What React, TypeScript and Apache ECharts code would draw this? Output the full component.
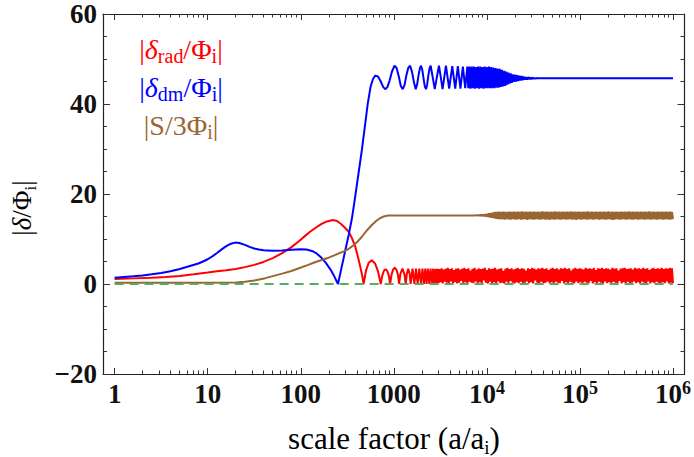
import { useEffect, useRef } from "react";
import * as echarts from "echarts";

// x values are log10(a/a_i)
const xMin = -0.125;
const xMax = 6.124;
const xTickLogs = [0, 1, 2, 3, 4, 5, 6];
const xTickLabels = ["{b|1}", "{b|10}", "{b|100}", "{b|1000}", "{b|10}{s|4}", "{b|10}{s|5}", "{b|10}{s|6}"];
const yMin = -20;
const yMax = 60;
const yInterval = 20;

// |delta_rad / Phi_i|  (resolved part)
const redPoints: number[][] = [
  [0, 1.1], [0.2, 1.25], [0.4, 1.4], [0.55, 1.55], [0.7, 1.8], [0.85, 2.15], [1.0, 2.55], [1.1, 2.85],
  [1.2, 3.05], [1.3, 3.35], [1.4, 3.75], [1.5, 4.25], [1.6, 4.9], [1.7, 5.75], [1.8, 6.85], [1.9, 8.2],
  [1.98, 9.5], [2.05, 10.75], [2.1, 11.6], [2.16, 12.5], [2.22, 13.3], [2.28, 13.9], [2.347, 14.2],
  [2.39, 14.0], [2.43, 13.4], [2.47, 12.6], [2.515, 11.6], [2.55, 10.2], [2.586, 8.3], [2.615, 6.0],
  [2.64, 3.8], [2.66, 1.9], [2.675, 0],
  [2.70, 2.9], [2.73, 4.7], [2.764, 5.3], [2.80, 4.5], [2.83, 2.8], [2.86, 0],
  [2.875, 1.8], [2.895, 3.0], [2.912, 3.3], [2.93, 2.9], [2.947, 1.8], [2.96, 0],
  [2.975, 2.0], [2.992, 3.2], [3.01, 3.6], [3.028, 3.2], [3.045, 2.0], [3.057, 0],
  [3.07, 2.2], [3.092, 3.4], [3.114, 2.2], [3.128, 0],
  [3.14, 2.3], [3.155, 3.4], [3.17, 2.3], [3.181, 0],
  [3.201, 3.4], [3.221, 0], [3.238, 3.4], [3.256, 0], [3.274, 3.4], [3.292, 0], [3.308, 3.4], [3.324, 0],
  [3.338, 3.4], [3.352, 0], [3.366, 3.4], [3.381, 0], [3.395, 3.4], [3.41, 0], [3.422, 3.4], [3.435, 0],
  [3.447, 3.4], [3.459, 0],
];
// dense oscillation band, samples evenly spread from redBandStart to redBandEnd
const redBandStart = 3.47;
const redBandEnd = 6.0;
const redBand = [
  3.4, 0.2, 3.3, 0.4, 3.5, 0.1, 3.2, 0.5, 3.4, 0.3, 3.6, 0.2, 3.3, 0.6, 3.5, 0.2, 3.1, 0.4, 3.4, 0.1,
  3.5, 0.3, 3.2, 0.7, 3.4, 0.2, 3.6, 0.4, 3.3, 0.1, 3.5, 0.5, 3.0, 0.3, 3.4, 0.2, 3.6, 0.6, 3.2, 0.1,
  3.5, 0.4, 3.3, 0.2, 3.4, 0.8, 3.6, 0.3, 3.1, 0.1, 3.5, 0.5, 3.3, 0.2, 3.4, 0.4, 3.6, 0.1, 3.2, 0.6,
  3.4, 0.2, 3.5, 0.3, 2.9, 0.1, 3.4, 0.5, 3.6, 0.2, 3.3, 0.7, 3.5, 0.3, 3.2, 0.1, 3.4, 0.4, 3.6, 0.2,
  3.3, 0.5, 3.5, 0.1, 3.4, 0.3, 3.0, 0.6, 3.5, 0.2, 3.3, 0.4, 3.6, 0.1, 3.4, 0.8, 3.2, 0.3, 3.5, 0.2,
  3.4, 0.5, 3.6, 0.1, 3.3, 0.3, 3.5, 0.6, 3.1, 0.2, 3.4, 0.4, 3.6, 0.1, 3.3, 0.5, 3.5, 0.3, 3.2, 0.2,
  3.5, 0.7, 3.4, 0.1, 3.6, 0.4, 3.3, 0.2, 3.5, 0.5, 3.0, 0.3, 3.4, 0.1, 3.6, 0.6, 3.3, 0.2, 3.5, 0.4,
  3.4, 0.1, 3.2, 0.5, 3.6, 0.3, 3.4, 0.2, 3.5, 0.7, 3.3, 0.1, 3.6, 0.4, 3.1, 0.2, 3.5, 0.5, 3.4, 0.3,
  3.6, 0.1, 3.3, 0.6, 3.5, 0.2, 3.4, 0.4, 3.2, 0.1, 3.6, 0.5, 3.4, 0.3, 3.5, 0.2, 3.0, 0.7, 3.4, 0.1,
  3.5, 0.4, 3.6, 0.2, 3.3, 0.5, 3.4, 0.1, 3.5, 0.3, 3.2, 0.6, 3.6, 0.2, 3.4, 0.4, 3.5, 0.1, 3.3, 0.5,
  3.6, 0.3, 3.4, 0.2, 3.5, 0.6, 3.1, 0.1, 3.4, 0.4, 3.6, 0.2, 3.3, 0.5, 3.5, 0.3, 3.4, 0.1, 3.6, 0.4,
  3.3, 0.2, 3.5, 0.6, 3.4, 0.1, 3.6, 0.3, 3.5, 0.2,
];

// |delta_dm / Phi_i|
const bluePoints: number[][] = [
  [0, 1.4], [0.1, 1.55], [0.2, 1.7], [0.3, 1.9], [0.4, 2.15], [0.5, 2.45], [0.6, 2.85], [0.7, 3.35],
  [0.8, 3.95], [0.9, 4.55], [0.95, 5.0], [1.0, 5.5], [1.05, 6.15], [1.1, 6.9], [1.15, 7.7], [1.2, 8.4],
  [1.25, 8.95], [1.295, 9.2], [1.34, 9.1], [1.4, 8.7], [1.45, 8.25], [1.5, 7.9], [1.55, 7.65], [1.6, 7.5],
  [1.7, 7.4], [1.8, 7.45], [1.9, 7.6], [2.0, 7.7], [2.06, 7.65], [2.12, 7.35], [2.17, 6.8], [2.22, 5.9],
  [2.27, 4.7], [2.32, 3.2], [2.36, 1.7], [2.40, 0], [2.44, 3.8], [2.48, 7.6], [2.515, 10.9], [2.55, 14.6],
  [2.58, 18.7], [2.62, 24.5], [2.657, 29.8], [2.69, 35.2], [2.72, 40.1], [2.75, 43.8], [2.775, 45.5],
  [2.80, 46.3], [2.83, 46.1], [2.86, 45.0], [2.885, 43.8], [2.907, 43.3], [2.93, 43.7], [2.955, 45.2],
  [2.98, 47.2], [3.007, 48.5], [3.03, 48.0], [3.055, 46.0], [3.075, 44.0], [3.096, 43.3], [3.115, 44.2],
  [3.135, 46.4], [3.155, 48.0], [3.175, 48.5], [3.195, 47.2], [3.215, 45.0], [3.235, 43.3], [3.25, 44.3],
  [3.265, 46.3], [3.28, 47.9], [3.292, 48.5], [3.306, 47.6], [3.32, 45.6], [3.333, 43.9], [3.346, 43.3],
  [3.358, 44.3], [3.371, 46.3], [3.384, 47.9], [3.396, 48.5], [3.418, 45.9], [3.44, 43.3], [3.462, 45.9],
  [3.485, 48.5], [3.505, 45.9], [3.524, 43.3], [3.542, 45.9], [3.56, 48.5], [3.595, 43.4], [3.628, 48.4],
  [3.66, 43.4], [3.688, 48.4], [3.716, 43.4], [3.742, 48.3], [3.767, 43.5], [3.79, 48.3],
];
const blueBandStart = 3.80;
const blueBandEnd = 4.56;
const blueBand = [
  43.5, 48.3, 43.4, 48.3, 43.5, 48.3, 43.4, 48.2, 43.5, 48.3, 43.4, 48.3, 43.5, 48.2, 43.4, 48.3, 43.5, 48.2, 43.5, 48.3, 43.5,
  48.2, 43.5, 48.1, 43.5, 48.0, 43.6, 47.9, 43.6, 47.8,
  43.8, 47.6, 43.9, 47.4, 44.0, 47.2,
  44.3, 47.0, 44.5, 46.8, 44.7, 46.6,
  44.9, 46.5, 45.0, 46.4, 45.1, 46.3,
  45.2, 46.2, 45.3, 46.1, 45.4, 46.0,
  45.4, 46.0, 45.5, 45.9, 45.5, 45.9, 45.6, 45.8, 45.6, 45.8, 45.7, 45.7,
];
const blueTail: number[][] = [[4.57, 45.7], [6.0, 45.7]];

// |S / 3 Phi_i|
const brownPoints: number[][] = [
  [0, 0.3], [0.5, 0.3], [1.0, 0.3], [1.3, 0.35], [1.4, 0.5], [1.5, 0.8], [1.62, 1.3], [1.7, 1.75],
  [1.8, 2.3], [1.9, 2.9], [1.98, 3.5], [2.08, 4.25], [2.16, 4.9], [2.24, 5.45], [2.3, 5.85], [2.36, 6.35],
  [2.42, 6.9], [2.47, 7.3], [2.515, 7.8], [2.56, 8.5], [2.6, 9.2], [2.657, 10.5], [2.71, 11.9],
  [2.764, 13.1], [2.81, 14.0], [2.85, 14.6], [2.89, 15.0], [2.94, 15.2], [3.0, 15.25], [3.5, 15.25],
  [3.87, 15.25],
];
const brownBandStart = 3.88;
const brownBandEnd = 6.0;
const brownBand = [
  15.25, 15.3, 15.2, 15.35, 15.15, 15.4, 15.1, 15.45, 15.05, 15.5, 15.0, 15.6, 14.9, 15.7, 14.8, 15.8, 14.7, 15.9, 14.6, 16.0,
  14.5, 16.05, 14.4, 16.1, 14.35, 16.0, 14.4, 16.1, 14.3, 16.05, 14.4, 16.0, 14.35, 16.1, 14.3, 16.05, 14.4, 16.1, 14.35, 16.0,
  14.3, 16.1, 14.4, 16.05, 14.3, 16.15, 14.35, 16.0, 14.4, 16.1, 14.25, 16.05, 14.35, 16.1, 14.4, 16.0, 14.3, 16.1, 14.35, 16.05,
  14.4, 16.1, 14.3, 16.0, 14.35, 16.15, 14.4, 16.05, 14.3, 16.1, 14.35, 16.0, 14.25, 16.1, 14.4, 16.05, 14.3, 16.15, 14.35, 16.0,
  14.4, 16.1, 14.3, 16.05, 14.35, 16.1, 14.4, 16.0, 14.3, 16.1, 14.35, 16.05, 14.4, 16.15, 14.3, 16.0, 14.35, 16.1, 14.25, 16.05,
  14.4, 16.1, 14.3, 16.0, 14.35, 16.1, 14.4, 16.05, 14.3, 16.15, 14.35, 16.0, 14.4, 16.1, 14.3, 16.05, 14.35, 16.1, 14.4, 16.0,
  14.3, 16.1, 14.35, 16.05, 14.4, 16.1, 14.3, 16.0, 14.35, 16.15, 14.4, 16.05, 14.3, 16.1, 14.25, 16.0, 14.35, 16.1, 14.4, 16.05,
  14.3, 16.1, 14.35, 16.0, 14.4, 16.1, 14.3, 16.05, 14.35, 16.15, 14.4, 16.0, 14.3, 16.1, 14.35, 16.05, 14.4, 16.1, 14.3, 16.0,
  14.35, 16.1, 14.4, 16.05, 14.3, 16.1, 14.35, 16.0, 14.4, 16.15, 14.3, 16.05, 14.35, 16.1, 14.4, 16.0, 14.3, 16.1, 14.35, 16.05,
  14.4, 16.1, 14.3, 16.0, 14.35, 16.1, 14.4, 16.05, 14.3, 16.1, 14.35, 16.0, 14.4,
];

// zero reference line
const zeroLine: number[][] = [[0, 0], [6, 0]];

const legendLines = [
  { text: "{n||}{g|δ}{sub|rad}{n|/Φ}{sub|i}{n||}", color: "#ff0000" },
  { text: "{n||}{g|δ}{sub|dm}{n|/Φ}{sub|i}{n||}", color: "#0000ff" },
  { text: "{n||S/3Φ}{sub|i}{n||}", color: "#996633" },
];

const FONT = '"Liberation Serif", "DejaVu Serif", serif';

function band(start: number, end: number, vals: number[]): number[][] {
  const step = (end - start) / (vals.length - 1);
  return vals.map((v, i) => [start + i * step, v]);
}

export default function App() {
  const ref = useRef<HTMLDivElement>(null);
  useEffect(() => {
    if (!ref.current) return;
    const chart = echarts.init(ref.current, undefined, { renderer: "svg" });
    const minorLogs: number[] = [];
    for (let k = 0; k < 6; k++) for (let m = 2; m <= 9; m++) minorLogs.push(k + Math.log10(m));

    const richTick = {
      b: { fontFamily: FONT, fontSize: 27, fontWeight: "bold", color: "#111", lineHeight: 30 },
      s: { fontFamily: FONT, fontSize: 18, fontWeight: "bold", color: "#111", lineHeight: 16, verticalAlign: "top" },
    };
    const mkRich = (color: string, size: number, subScale = 0.68) => ({
      n: { fontFamily: FONT, fontSize: size, fill: color, lineHeight: size + 6 },
      g: { fontFamily: FONT, fontSize: size, fill: color, fontStyle: "italic", lineHeight: size + 6 },
      sub: { fontFamily: FONT, fontSize: Math.round(size * subScale), fill: color, lineHeight: 12, verticalAlign: "bottom" },
    });

    const axisLine = { show: true, onZero: false, lineStyle: { color: "#222", width: 1.2 } };
    const tickStyle = { color: "#333", width: 1 };

    const option: any = {
      animation: false,
      grid: { left: 103, top: 14, width: 584, height: 360, containLabel: false },
      xAxis: [
        {
          type: "value", min: xMin, max: xMax, position: "bottom",
          axisLine,
          axisTick: { show: true, inside: true, length: 6, customValues: xTickLogs, lineStyle: tickStyle },
          axisLabel: {
            show: true, customValues: xTickLogs, margin: 5,
            formatter: (v: number) => {
              const i = xTickLogs.findIndex((t) => Math.abs(t - v) < 1e-6);
              return i >= 0 ? xTickLabels[i] : "";
            },
            rich: richTick,
          },
          splitLine: { show: false },
        },
        {
          type: "value", min: xMin, max: xMax, position: "bottom",
          axisLine: { show: false, onZero: false },
          axisTick: { show: true, inside: true, length: 3.5, customValues: minorLogs, lineStyle: tickStyle },
          axisLabel: { show: false },
          splitLine: { show: false },
        },
        {
          type: "value", min: xMin, max: xMax, position: "top",
          axisLine,
          axisTick: { show: true, inside: true, length: 6, customValues: xTickLogs, lineStyle: tickStyle },
          axisLabel: { show: false },
          splitLine: { show: false },
        },
        {
          type: "value", min: xMin, max: xMax, position: "top",
          axisLine: { show: false, onZero: false },
          axisTick: { show: true, inside: true, length: 3.5, customValues: minorLogs, lineStyle: tickStyle },
          axisLabel: { show: false },
          splitLine: { show: false },
        },
      ],
      yAxis: [
        {
          type: "value", min: yMin, max: yMax, interval: yInterval, position: "left",
          axisLine,
          axisTick: { show: true, inside: true, length: 7, lineStyle: tickStyle },
          minorTick: { show: true, splitNumber: 4, length: 4, lineStyle: tickStyle },
          axisLabel: {
            margin: 6, fontFamily: FONT, fontSize: 27, fontWeight: "bold", color: "#111",
            formatter: (v: number) => (v < 0 ? "\u2212" + Math.abs(v) : String(v)),
          },
          splitLine: { show: false },
          minorSplitLine: { show: false },
        },
        {
          type: "value", min: yMin, max: yMax, interval: yInterval, position: "right",
          axisLine,
          axisTick: { show: true, inside: true, length: 7, lineStyle: tickStyle },
          minorTick: { show: true, splitNumber: 4, length: 4, lineStyle: tickStyle },
          axisLabel: { show: false },
          splitLine: { show: false },
          minorSplitLine: { show: false },
        },
      ],
      series: [
        {
          type: "line", name: "rad", showSymbol: false, symbol: "none",
          data: [...redPoints, ...band(redBandStart, redBandEnd, redBand)],
          lineStyle: { color: "#ff0000", width: 2 }, clip: true,
        },
        {
          type: "line", name: "dm", showSymbol: false, symbol: "none",
          data: [...bluePoints, ...band(blueBandStart, blueBandEnd, blueBand), ...blueTail],
          lineStyle: { color: "#0000ff", width: 2 }, clip: true,
        },
        {
          type: "line", name: "S", showSymbol: false, symbol: "none",
          data: [...brownPoints, ...band(brownBandStart, brownBandEnd, brownBand)],
          lineStyle: { color: "#996633", width: 2 }, clip: true,
        },
        {
          type: "line", name: "zero", showSymbol: false, symbol: "none",
          data: zeroLine,
          lineStyle: { color: "#55ad60", width: 2, type: [9, 6] }, clip: true,
        },
      ],
      graphic: [
        ...legendLines.map((l, i) => ({
          type: "text", x: 181, y: 49 + i * 38, z: 10,
          style: { text: l.text, rich: mkRich(l.color, 28, 0.7), align: "center", verticalAlign: "middle", fill: l.color },
        })),
        {
          type: "text", x: 394, y: 438, z: 10,
          style: {
            text: "{n|scale factor (a/a}{sub|i}{n|)}", rich: mkRich("#000", 31, 0.62),
            align: "center", verticalAlign: "middle", fill: "#000",
          },
        },
        {
          type: "text", x: 22, y: 208, rotation: Math.PI / 2, z: 10,
          style: {
            text: "{n||}{g|δ}{n|/Φ}{sub|i}{n||}", rich: mkRich("#000", 27, 0.62),
            align: "center", verticalAlign: "middle", fill: "#000",
          },
        },
      ],
    };
    chart.setOption(option);
    return () => chart.dispose();
  }, []);
  return (
    <div
      ref={ref}
      style={{ position: "absolute", left: 0, top: 0, width: 694, height: 457 }}
    />
  );
}
